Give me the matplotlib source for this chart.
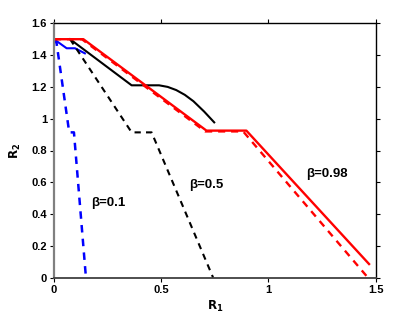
import matplotlib
matplotlib.use("Agg")
import matplotlib.pyplot as plt

plt.rcParams['font.family'] = ['Liberation Sans', 'DejaVu Sans']

# curves: (R1, R2) points
blue_solid_x = [0.0, 0.059, 0.098, 0.144]
blue_solid_y = [1.5, 1.443, 1.443, 1.411]
blue_dash_x = [0.0, 0.012, 0.071, 0.093, 0.149]
blue_dash_y = [1.5, 1.475, 0.914, 0.914, 0.0]

black_solid_x = [0.075, 0.362, 0.49, 0.53, 0.57, 0.61, 0.65, 0.70, 0.747]
black_solid_y = [1.5, 1.21, 1.21, 1.2, 1.18, 1.15, 1.11, 1.045, 0.977]
black_dash_x = [0.075, 0.362, 0.455, 0.742]
black_dash_y = [1.5, 0.914, 0.914, 0.0]

red_solid_x = [0.0, 0.137, 0.711, 0.897, 1.469]
red_solid_y = [1.5, 1.5, 0.925, 0.925, 0.086]
red_dash_x = [0.0, 0.13, 0.705, 0.882, 1.464]
red_dash_y = [1.5, 1.5, 0.92, 0.92, 0.0]

labels = ["\u03b2=0.1", "\u03b2=0.5", "\u03b2=0.98"]
label_x = [0.171, 0.63, 1.174]
label_y = [0.468, 0.583, 0.65]

fig = plt.figure(figsize=(4.15, 3.13), dpi=100)
ax = fig.add_axes([54 / 415, 1 - 277.7 / 313, (375.7 - 54) / 415, (277.7 - 23.3) / 313])

ax.plot(blue_solid_x, blue_solid_y, color='blue', lw=1.5)
ax.plot(blue_dash_x, blue_dash_y, color='blue', lw=1.8, ls=(0, (3, 2.5)))
ax.plot(black_solid_x, black_solid_y, color='black', lw=1.5)
ax.plot(black_dash_x, black_dash_y, color='black', lw=1.5, ls=(0, (3, 2.5)))
ax.plot(red_solid_x, red_solid_y, color='red', lw=1.7)
ax.plot(red_dash_x, red_dash_y, color='red', lw=1.7, ls=(0, (3, 2.5)))

for t, x, y in zip(labels, label_x, label_y):
    ax.text(x, y, t, fontsize=9.5, fontweight='bold', va='center', ha='left')

ax.set_xlim(0, 1.5)
ax.set_ylim(0, 1.6)
ax.set_xticks([0, 0.5, 1, 1.5])
ax.set_xticklabels(['0', '0.5', '1', '1.5'])
ax.set_yticks([0, 0.2, 0.4, 0.6, 0.8, 1, 1.2, 1.4, 1.6])
ax.set_yticklabels(['0', '0.2', '0.4', '0.6', '0.8', '1', '1.2', '1.4', '1.6'])
ax.tick_params(direction='out', length=3, width=0.8, labelsize=8, pad=2,
               top=True, right=True)
for lab in ax.get_xticklabels() + ax.get_yticklabels():
    lab.set_fontweight('bold')

ax.spines['left'].set_color('#808080')
ax.spines['left'].set_linewidth(1.6)
ax.spines['bottom'].set_color('#404040')
ax.spines['bottom'].set_linewidth(1.3)
ax.spines['top'].set_linewidth(1.0)
ax.spines['right'].set_linewidth(1.0)

ax.set_xlabel(r'$\mathbf{R_1}$', fontsize=8.5, labelpad=3)
ax.set_ylabel(r'$\mathbf{R_2}$', fontsize=8.5, labelpad=6)

fig.savefig('out.png', dpi=100)
